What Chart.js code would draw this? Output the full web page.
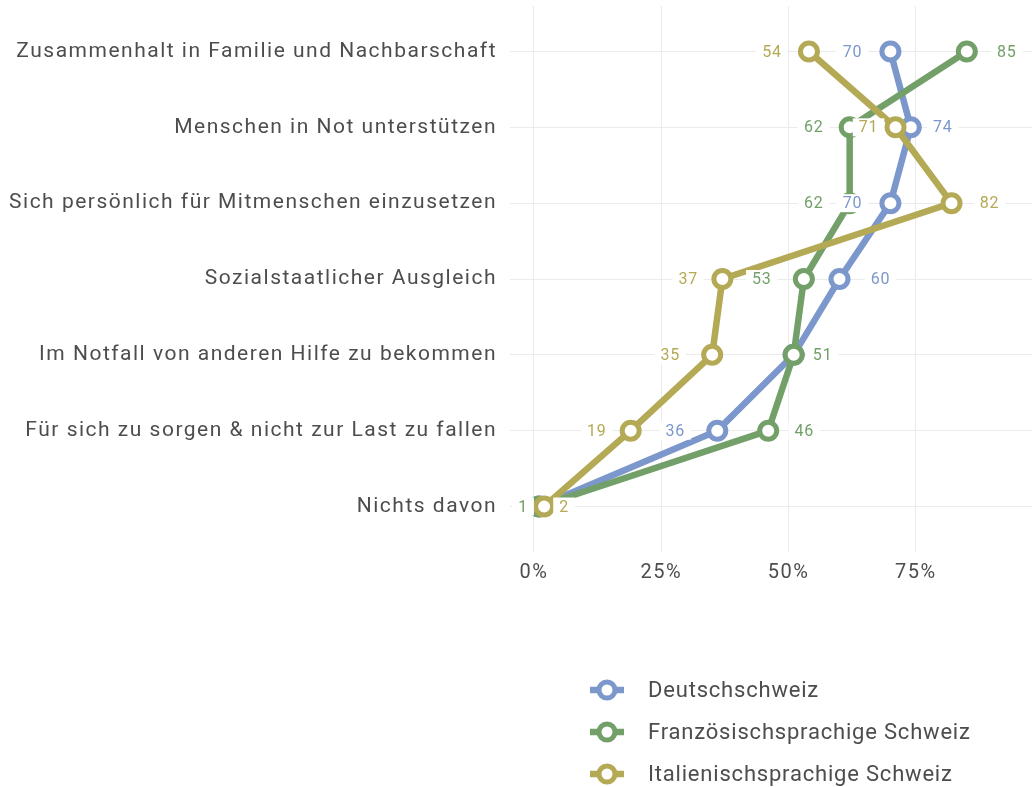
<!DOCTYPE html>
<html>
<head>
<meta charset="utf-8">
<script src="https://cdn.jsdelivr.net/npm/chart.js@4.4.0/dist/chart.umd.min.js"></script>
<style>
  html, body { margin: 0; padding: 0; background: #fff; overflow: hidden; }
  #wrap { width: 1032px; height: 787px; }
</style>
</head>
<body>
<div id="wrap"><canvas id="lineChart"></canvas></div>
<script>
// data
const categories = [
  'Zusammenhalt in Familie und Nachbarschaft',
  'Menschen in Not unterstützen',
  'Sich persönlich für Mitmenschen einzusetzen',
  'Sozialstaatlicher Ausgleich',
  'Im Notfall von anderen Hilfe zu bekommen',
  'Für sich zu sorgen & nicht zur Last zu fallen',
  'Nichts davon'
];
const seriesNames = ['Deutschschweiz', 'Französischsprachige Schweiz', 'Italienischsprachige Schweiz'];
const deutschschweiz = [70, 74, 70, 60, 51, 36, 1];
const franzSchweiz = [85, 62, 62, 53, 51, 46, 1];
const italSchweiz = [54, 71, 82, 37, 35, 19, 2];
const xTickValues = [0, 25, 50, 75];

// label placement (pixel offset from the point, null = label dropped)
const deutschLabelDx = [-38, 32, -38, 41, null, -42, null];
const franzLabelDx = [40, -36, -36, -42, 29, 36, -16];
const italLabelDx = [-37, -27, 38, -34, -42, -34, 20];

const colors = ['#7b97cb', '#73a068', '#b4a954'];
const textColor = '#4d4d4d';
const gridColor = '#ebebeb';
const fontFamily = 'Roboto, "Liberation Sans", sans-serif';

function toPoints(values) {
  return values.map((v, i) => ({ x: v, y: i + 1 }));
}

const allValues = [deutschschweiz, franzSchweiz, italSchweiz];
const allDx = [deutschLabelDx, franzLabelDx, italLabelDx];

// later series are drawn on top (Chart.js draws lower order last)
const datasets = allValues.map((vals, k) => ({
  label: seriesNames[k],
  data: toPoints(vals),
  order: allValues.length - k,
  borderColor: colors[k],
  borderWidth: 6.5,
  pointRadius: 8.5,
  pointBorderWidth: 5,
  pointBackgroundColor: '#ffffff',
  pointBorderColor: colors[k],
  pointHoverRadius: 8.5,
  tension: 0,
  fill: false,
  clip: false
}));

// letter spacing for the wide font look
const spacingPlugin = {
  id: 'spacing',
  beforeLayout(chart) { chart.ctx.letterSpacing = '1.5px'; },
  beforeDraw(chart) { chart.ctx.letterSpacing = '1.5px'; }
};

// value labels on white boxes
const valueLabels = {
  id: 'valueLabels',
  afterDatasetsDraw(chart) {
    const ctx = chart.ctx;
    ctx.save();
    ctx.font = '16px ' + fontFamily;
    ctx.letterSpacing = '0.8px';
    ctx.textAlign = 'center';
    ctx.textBaseline = 'middle';
    allValues.forEach((vals, k) => {
      const meta = chart.getDatasetMeta(k);
      meta.data.forEach((pt, i) => {
        const dx = allDx[k][i];
        if (dx === null) return;
        const txt = String(vals[i]);
        const w = ctx.measureText(txt).width;
        const cx = pt.x + dx;
        ctx.fillStyle = '#ffffff';
        ctx.fillRect(cx - w / 2 - 6, pt.y - 9, w + 12, 18);
        ctx.fillStyle = colors[k];
        ctx.fillText(txt, cx, pt.y + 1);
      });
    });
    ctx.restore();
  }
};

// vertical legend at the bottom
const legendPlugin = {
  id: 'stackLegend',
  afterDraw(chart) {
    const ctx = chart.ctx;
    ctx.save();
    ctx.font = '22px ' + fontFamily;
    ctx.letterSpacing = '0.8px';
    ctx.textAlign = 'left';
    ctx.textBaseline = 'middle';
    seriesNames.forEach((name, k) => {
      const y = 690 + k * 42;
      ctx.strokeStyle = colors[k];
      ctx.lineWidth = 6.5;
      ctx.beginPath();
      ctx.moveTo(590, y);
      ctx.lineTo(624, y);
      ctx.stroke();
      ctx.beginPath();
      ctx.arc(607, y, 8, 0, Math.PI * 2);
      ctx.fillStyle = '#ffffff';
      ctx.fill();
      ctx.lineWidth = 5;
      ctx.stroke();
      ctx.fillStyle = textColor;
      ctx.fillText(name, 648, y + 1);
    });
    ctx.restore();
  }
};

var config = {
  type: 'line',
  data: { datasets: datasets },
  options: {
    responsive: true,
    maintainAspectRatio: false,
    animation: false,
    layout: { autoPadding: false, padding: { top: 6, right: 0, left: 0, bottom: 0 } },
    plugins: {
      legend: { display: false },
      tooltip: { enabled: false }
    },
    scales: {
      x: {
        type: 'linear',
        min: -4.7,
        max: 97.8,
        afterBuildTicks: (scale) => { scale.ticks = xTickValues.map(v => ({ value: v })); },
        afterFit: (scale) => { scale.height = 235; scale.paddingLeft = 0; scale.paddingRight = 0; },
        grid: { color: gridColor, lineWidth: 1, drawTicks: false },
        border: { display: false },
        ticks: {
          padding: 9,
          color: textColor,
          font: { family: fontFamily, size: 20 },
          maxRotation: 0,
          callback: (v) => v + '%'
        }
      },
      y: {
        type: 'linear',
        reverse: true,
        min: 0.4,
        max: 7.6,
        afterBuildTicks: (scale) => { scale.ticks = categories.map((c, i) => ({ value: i + 1 })); },
        afterFit: (scale) => { scale.width = 510; scale.paddingTop = 0; scale.paddingBottom = 0; },
        grid: { color: gridColor, lineWidth: 1, drawTicks: false },
        border: { display: false },
        ticks: {
          padding: 13,
          color: textColor,
          font: { family: fontFamily, size: 21, lineHeight: 0.5 },
          callback: (v) => categories[v - 1]
        }
      }
    }
  },
  plugins: [spacingPlugin, valueLabels, legendPlugin]
};

var ctx = document.getElementById('lineChart').getContext('2d');
var myChart = new Chart(ctx, config);
</script>
</body>
</html>
